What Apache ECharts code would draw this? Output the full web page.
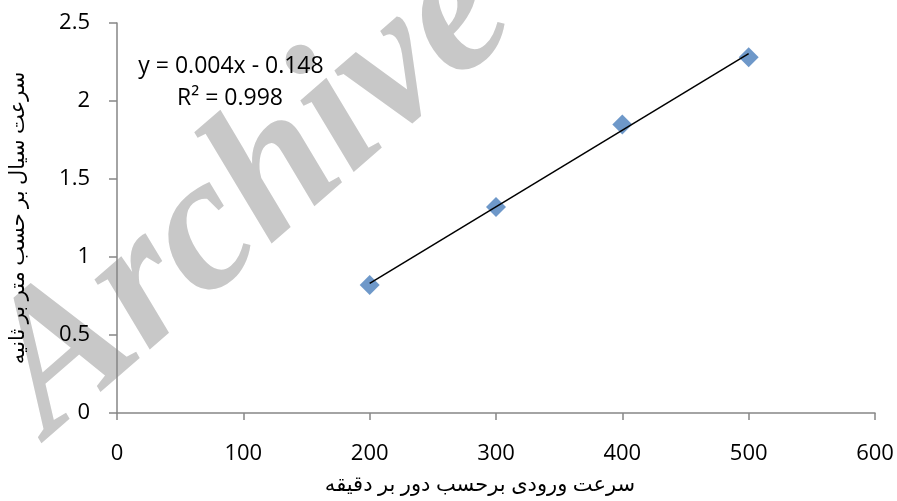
<!DOCTYPE html>
<html>
<head>
<meta charset="utf-8">
<script src="https://cdn.jsdelivr.net/npm/echarts@6/dist/echarts.min.js"></script>
<style>html,body{margin:0;padding:0;background:#fff}#c{width:897px;height:501px}</style>
</head>
<body>
<div id="c"></div>
<script>
var xValues = [200, 300, 400, 500];
var yValues = [0.82, 1.32, 1.85, 2.28];
var xTicks = [0, 100, 200, 300, 400, 500, 600];
var yTicks = [0, 0.5, 1, 1.5, 2, 2.5];
var xTitle = 'سرعت ورودی برحسب دور بر دقیقه';
var yTitle = 'سرعت سیال بر حسب متر بر ثانیه';
var eqText = 'y = 0.004x - 0.148';
var r2Text = 'R² = 0.998';
var watermark = 'Archive';

// least squares trendline from the data
var n = xValues.length, mx = 0, my = 0;
for (var i = 0; i < n; i++) { mx += xValues[i]; my += yValues[i]; }
mx /= n; my /= n;
var sxy = 0, sxx = 0;
for (var i = 0; i < n; i++) { sxy += (xValues[i]-mx)*(yValues[i]-my); sxx += (xValues[i]-mx)*(xValues[i]-mx); }
var slope = sxy/sxx, icpt = my - slope*mx;
var xMin = Math.min.apply(null, xValues), xMax = Math.max.apply(null, xValues);
var trend = [[xMin, icpt + slope*xMin], [xMax, icpt + slope*xMax]];

var pts = xValues.map(function(x, i){ return [x, yValues[i]]; });
var FONT = '"Open Sans", "DejaVu Sans", sans-serif';
var axisColor = '#868686';

var chart = echarts.init(document.getElementById('c'), null, {renderer: 'canvas'});
chart.setOption({
  animation: false,
  backgroundColor: '#fff',
  grid: {left: 117, right: 22, top: 23, bottom: 86.5},
  graphic: [
    {type: 'text', z: -10, x: 252, y: 194, rotation: 41*Math.PI/180,
     style: {text: watermark, font: 'italic bold 194px "Liberation Serif", "DejaVu Serif", serif',
       fill: '#c8c8c8', align: 'center', verticalAlign: 'middle'}},
    {type: 'text', z: 100, x: 231, y: 66,
     style: {text: eqText, font: '23px ' + FONT, fill: '#000', align: 'center', verticalAlign: 'middle'}},
    {type: 'text', z: 100, x: 230, y: 98,
     style: {text: r2Text, font: '23px ' + FONT, fill: '#000', align: 'center', verticalAlign: 'middle'}}
  ],
  xAxis: {
    type: 'value', min: xTicks[0], max: xTicks[xTicks.length-1], interval: 100,
    name: xTitle, nameLocation: 'middle', nameGap: 62,
    nameTextStyle: {fontSize: 21, color: '#000', fontFamily: FONT, padding: [0, 32, 0, 0]},
    axisLine: {show: true, lineStyle: {color: axisColor, width: 1.5}},
    axisTick: {show: true, inside: false, length: 7, lineStyle: {color: axisColor, width: 1.5}},
    axisLabel: {fontSize: 22, color: '#000', fontFamily: FONT, margin: 30},
    splitLine: {show: false}
  },
  yAxis: {
    type: 'value', min: yTicks[0], max: yTicks[yTicks.length-1], interval: 0.5,
    name: yTitle, nameLocation: 'middle', nameRotate: 90, nameGap: 88,
    nameTextStyle: {fontSize: 21, color: '#000', fontFamily: FONT},
    axisLine: {show: true, lineStyle: {color: axisColor, width: 1.5}},
    axisTick: {show: true, inside: false, length: 8, lineStyle: {color: axisColor, width: 1.5}},
    axisLabel: {fontSize: 22, color: '#000', fontFamily: FONT, margin: 27},
    splitLine: {show: false}
  },
  series: [
    {type: 'scatter', data: pts, symbol: 'diamond', symbolSize: 20, z: 3,
     itemStyle: {color: '#4a7ebb'}},
    {type: 'line', data: trend, showSymbol: false, symbol: 'none', z: 4,
     lineStyle: {color: '#000', width: 1.5}}
  ]
});
</script>
</body>
</html>
